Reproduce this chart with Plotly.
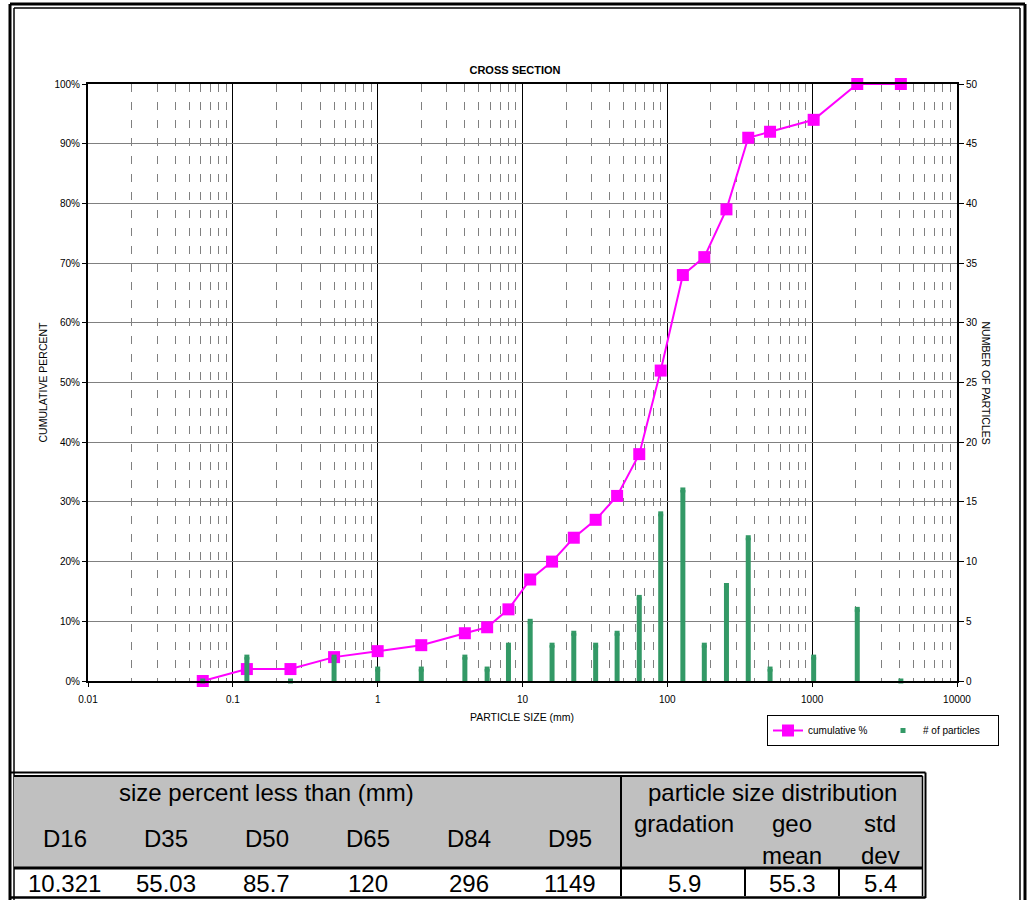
import plotly.graph_objects as go

# ---------------- data ----------------
sizes = [0.062, 0.125, 0.25, 0.5, 1, 2, 4, 5.7, 8, 11.3, 16, 22.6, 32, 45, 64, 90,
         128, 180, 256, 362, 512, 1024, 2048, 4096]
cumulative_pct = [0, 2, 2, 4, 5, 6, 8, 9, 12, 17, 20, 24, 27, 31, 38, 52,
                  68, 71, 79, 91, 92, 94, 100, 100]
particle_counts = [0, 2, 0, 2, 1, 1, 2, 1, 3, 5, 3, 4, 3, 4, 7, 14,
                   16, 3, 8, 12, 1, 2, 6, 0]
x_tick_vals = [0.01, 0.1, 1, 10, 100, 1000, 10000]
x_tick_text = ["0.01", "0.1", "1", "10", "100", "1000", "10000"]

tbl_group1 = "size percent less than (mm)"
tbl_group2 = "particle size distribution"
d_labels = ["D16", "D35", "D50", "D65", "D84", "D95"]
d_values = ["10.321", "55.03", "85.7", "120", "296", "1149"]
psd_labels = [["gradation"], ["geo", "mean"], ["std", "dev"]]
psd_values = ["5.9", "55.3", "5.4"]

# ---------------- geometry helpers ----------------
W, H = 1030, 900
L, R, T, B = 88, 957, 84, 681


def px(x):
    return (x - L) / (R - L)


def py(y):
    return (B - y) / (B - T)


MAGENTA = "#FF00FF"
GREEN = "#339966"
FONT = "Liberation Sans, Arial, sans-serif"

fig = go.Figure()

fig.add_trace(go.Scatter(
    x=sizes, y=[v / 100 for v in cumulative_pct], name="cumulative %",
    mode="lines+markers", cliponaxis=False,
    line=dict(color=MAGENTA, width=2),
    marker=dict(symbol="square", size=12, color=MAGENTA),
))

fig.add_trace(go.Scatter(
    x=sizes, y=particle_counts, name="# of particles", yaxis="y2",
    mode="markers", cliponaxis=False,
    marker=dict(symbol="square", size=5, color=GREEN),
    error_y=dict(type="data", symmetric=False,
                 array=[0 for _ in particle_counts], arrayminus=particle_counts,
                 thickness=5, width=0, color=GREEN),
))

fig.update_layout(
    width=W, height=H,
    margin=dict(l=L, r=W - R, t=T, b=H - B),
    paper_bgcolor="white", plot_bgcolor="white",
    font=dict(family=FONT, size=10, color="black"),
    title=dict(text="<b>CROSS SECTION</b>", x=0.5, xref="container", xanchor="center",
               y=1 - 70 / H, yref="container", yanchor="middle",
               font=dict(size=11, family=FONT)),
    xaxis=dict(type="log", range=[-2, 4], tickvals=x_tick_vals, ticktext=x_tick_text,
               showline=True, mirror=True, linecolor="black", linewidth=2,
               showgrid=True, gridcolor="#000000", gridwidth=1,
               ticks="outside", ticklen=4, tickcolor="black", ticklabelstandoff=4,
               minor=dict(dtick="D1", showgrid=True, gridcolor="#808080",
                          griddash="8px,10px", gridwidth=1, ticks=""),
               zeroline=False, tickfont=dict(size=10)),
    yaxis=dict(range=[0, 1], dtick=0.1, tickformat=".0%",
               showline=True, mirror=True, linecolor="black", linewidth=2,
               showgrid=True, gridcolor="#808080", gridwidth=1,
               ticks="outside", ticklen=4, tickcolor="black", zeroline=False,
               tickfont=dict(size=10)),
    yaxis2=dict(range=[0, 50], dtick=5, overlaying="y", side="right",
                showline=True, linecolor="black", linewidth=2, showgrid=False,
                ticks="outside", ticklen=5, tickcolor="black", zeroline=False,
                tickfont=dict(size=10)),
    legend=dict(orientation="h", x=px(999), xanchor="right", y=py(715), yanchor="top",
                bordercolor="black", borderwidth=1, bgcolor="white",
                font=dict(size=10), itemwidth=30, traceorder="normal",
                entrywidth=70),
    showlegend=True,
)

ann = []


def text(t, x, y, font, angle=0):
    ann.append(dict(text=t, x=px(x), y=py(y), xref="paper", yref="paper",
                    xanchor="center", yanchor="middle", textangle=angle,
                    showarrow=False, font=font))


AF = dict(size=10.5, family=FONT, color="black")
text("CUMULATIVE PERCENT", 42, (T + B) / 2, AF, -90)
text("NUMBER OF PARTICLES", 986, (T + B) / 2, AF, 90)
text("PARTICLE SIZE (mm)", 522, 717, AF)

shapes = []


def rect(x0, y0, x1, y1, fill):
    shapes.append(dict(type="rect", xref="paper", yref="paper",
                       x0=px(x0), x1=px(x1), y0=py(y0), y1=py(y1),
                       line=dict(width=0), fillcolor=fill, layer="above"))


def line(x0, y0, x1, y1, lw, color="black"):
    shapes.append(dict(type="line", xref="paper", yref="paper",
                       x0=px(x0), x1=px(x1), y0=py(y0), y1=py(y1),
                       line=dict(color=color, width=lw), layer="above"))


# outer frame (double)
line(10, 4, 10, 900, 3)
line(14, 8, 14, 900, 1.5)
line(1025, 4, 1025, 900, 3)
line(1020, 8, 1020, 900, 1.5)
line(10, 4, 1025, 4, 3)
line(14, 8, 1020, 8, 1.5)

# table
rect(14, 776, 922, 868, "#C0C0C0")
line(10, 772.5, 925.5, 772.5, 2)
line(14, 776, 922.5, 776, 2)
line(925.5, 772.5, 925.5, 898, 2)
line(922.5, 776, 922.5, 896, 1.5)
line(10, 897.5, 925.5, 897.5, 2.5)
line(14, 868, 922.5, 868, 3)
line(621, 776, 621, 896, 2)
line(745, 868, 745, 896, 2)
line(839, 868, 839, 896, 2)

TF = dict(size=24, family=FONT, color="black")
text(tbl_group1, 266, 792, TF)
text(tbl_group2, 772, 792, TF)
col_w = (621 - 14) / 6
for i, (lab, val) in enumerate(zip(d_labels, d_values)):
    cx = 14 + col_w * (i + 0.5)
    text(lab, cx, 838, TF)
    text(val, cx, 884, TF)
psd_x = [684, 792, 880]
for cx, labs, val in zip(psd_x, psd_labels, psd_values):
    for j, lab in enumerate(labs):
        text(lab, cx, 824 + 31 * j, TF)
    text(val, cx, 884, TF)

fig.update_layout(annotations=ann, shapes=shapes)
fig.write_html("out.html", post_script="document.body.style.margin='0px';",
               config={"displayModeBar": False})
